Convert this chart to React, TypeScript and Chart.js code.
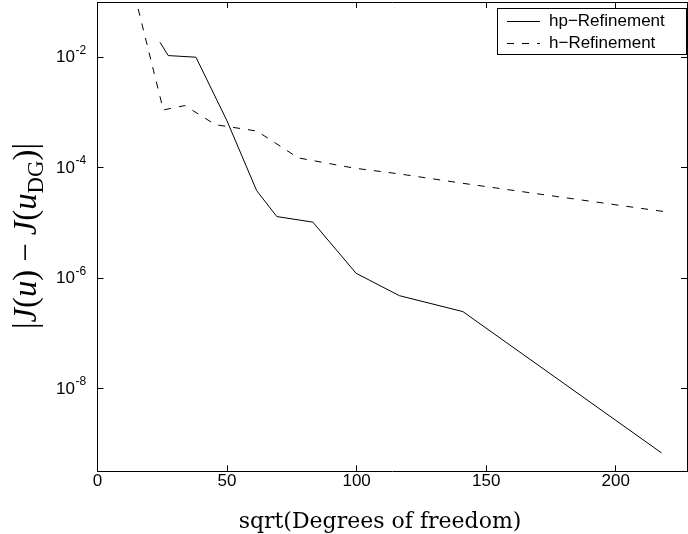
import { useEffect, useRef } from "react";
import { Chart, registerables } from "chart.js";
Chart.register(...registerables);

const hpX = [24.1, 27.3, 38.0, 50.0, 61.4, 69.2, 83.1, 99.8, 116.5, 141.0, 217.7];
const hpY = [1.87e-2, 1.07e-2, 1.0e-2, 7.0e-4, 3.85e-5, 1.3e-5, 1.03e-5, 1.22e-6, 4.8e-7, 2.47e-7, 6.8e-10];
const hX = [15.7, 25.4, 33.7, 45.5, 61.5, 77.5, 99.0, 116.5, 141.0, 218.6];
const hY = [7.5e-2, 1.11e-3, 1.33e-3, 6.0e-4, 4.6e-4, 1.5e-4, 9.8e-5, 7.7e-5, 5.2e-5, 1.6e-5];

const xTickValues = [0, 50, 100, 150, 200];
const yTickValues = [1e-2, 1e-4, 1e-6, 1e-8];
const yTickBase = "10";
const yTickExponents = ["-2", "-4", "-6", "-8"];
const seriesNames = ["hp\u2212Refinement", "h\u2212Refinement"];
const xTitle = "sqrt(Degrees of freedom)";
const yTitleParts = [
  { t: "|", it: false, sub: false },
  { t: "J", it: true, sub: false },
  { t: "(", it: false, sub: false },
  { t: "u", it: true, sub: false },
  { t: ")", it: false, sub: false },
  { t: " \u2212 ", it: false, sub: false },
  { t: "J", it: true, sub: false },
  { t: "(", it: false, sub: false },
  { t: "u", it: true, sub: false },
  { t: "DG", it: false, sub: true },
  { t: ")", it: false, sub: false },
  { t: "|", it: false, sub: false },
];

const SERIF = '"DejaVu Serif", serif';
const SERIF2 = '"Liberation Serif", serif';
const SANS = '"Liberation Sans", Arial, sans-serif';

const decor = {
  id: "decor",
  afterDraw(chart: any) {
    const ctx = chart.ctx as CanvasRenderingContext2D;
    ctx.save();
    ctx.fillStyle = "#000";

    // y tick labels with superscript exponents
    const ys = chart.scales.y;
    yTickValues.forEach((v, i) => {
      const py = ys.getPixelForValue(v);
      ctx.font = `17px ${SANS}`;
      ctx.textAlign = "right";
      ctx.textBaseline = "middle";
      ctx.fillText(yTickBase, 75, py + 0.5);
      ctx.font = `12px ${SANS}`;
      ctx.textAlign = "left";
      ctx.fillText(yTickExponents[i], 75.5, py - 6.5);
    });

    // x title
    ctx.font = `22px ${SERIF}`;
    ctx.textAlign = "center";
    ctx.textBaseline = "alphabetic";
    ctx.fillText(xTitle, 380, 528);

    // y title (mixed fonts)
    const fontFor = (p: any, size: number) =>
      `${p.it ? "italic " : ""}${p.sub ? size * 0.7 : size}px ${SERIF2}`;
    const measure = (size: number) => {
      let w = 0;
      for (const p of yTitleParts) {
        ctx.font = fontFor(p, size);
        w += ctx.measureText(p.t).width;
      }
      return w;
    };
    const target = 186;
    const size = (24 * target) / measure(24);
    const total = measure(size);
    ctx.translate(36, 236);
    ctx.rotate(-Math.PI / 2);
    ctx.textAlign = "left";
    let x = -total / 2;
    for (const p of yTitleParts) {
      ctx.font = fontFor(p, size);
      ctx.fillText(p.t, x, p.sub ? size * 0.2 : 0);
      x += ctx.measureText(p.t).width;
    }
    ctx.setTransform(1, 0, 0, 1, 0, 0);

    // legend
    const lx = 497.5, ly = 8.5, lw = 189, lh = 46;
    ctx.fillStyle = "#fff";
    ctx.fillRect(lx, ly, lw, lh);
    ctx.strokeStyle = "#000";
    ctx.lineWidth = 1;
    ctx.setLineDash([]);
    ctx.strokeRect(lx, ly, lw, lh);
    const rows = [21.5, 43.5];
    chart.data.datasets.forEach((ds: any, i: number) => {
      const y = rows[i];
      ctx.beginPath();
      ctx.setLineDash(ds.borderDash || []);
      ctx.moveTo(507, y);
      ctx.lineTo(540, y);
      ctx.strokeStyle = "#000";
      ctx.lineWidth = 1;
      ctx.stroke();
      ctx.setLineDash([]);
      ctx.fillStyle = "#000";
      ctx.font = `17px ${SANS}`;
      ctx.textAlign = "left";
      ctx.textBaseline = "middle";
      ctx.fillText(ds.label, 549, y);
    });
    ctx.restore();
  },
};

const zeroPad = (s: any) => {
  s.paddingTop = 0;
  s.paddingBottom = 0;
  s.paddingLeft = 0;
  s.paddingRight = 0;
};

export default function App() {
  const ref = useRef<HTMLCanvasElement | null>(null);
  useEffect(() => {
    document.body.style.margin = "0";
    const canvas = ref.current;
    if (!canvas) return;
    const tickFont = { family: SANS, size: 17 };
    const gridOpts = {
      display: true,
      drawOnChartArea: false,
      drawTicks: true,
      tickLength: -6,
      color: "#000",
      lineWidth: 1,
    };
    const borderOpts = { display: true, color: "#000", width: 1 };
    const setX = (s: any) => {
      s.ticks = xTickValues.map((v) => ({ value: v }));
    };
    const setY = (s: any) => {
      s.ticks = yTickValues.map((v) => ({ value: v }));
    };
    const chart = new Chart(canvas, {
      type: "line",
      data: {
        datasets: [
          {
            label: seriesNames[0],
            data: hpX.map((x, i) => ({ x, y: hpY[i] })),
            borderColor: "#000",
            borderWidth: 1,
            pointRadius: 0,
            fill: false,
            tension: 0,
          },
          {
            label: seriesNames[1],
            data: hX.map((x, i) => ({ x, y: hY[i] })),
            borderColor: "#000",
            borderWidth: 1,
            borderDash: [7, 8],
            pointRadius: 0,
            fill: false,
            tension: 0,
          },
        ],
      },
      options: {
        responsive: false,
        animation: false,
        layout: { padding: { top: 2, right: 1, left: 0, bottom: 0 } },
        plugins: { legend: { display: false }, tooltip: { enabled: false } },
        scales: {
          x: {
            type: "linear",
            position: "bottom",
            min: 0,
            max: 227.5,
            afterBuildTicks: setX,
            afterFit: (s: any) => {
              s.height = 62.7;
              zeroPad(s);
            },
            ticks: { font: tickFont, color: "#000", padding: 6, maxRotation: 0, autoSkip: false },
            grid: gridOpts,
            border: borderOpts,
          },
          x2: {
            type: "linear",
            position: "top",
            min: 0,
            max: 227.5,
            afterBuildTicks: setX,
            afterFit: (s: any) => {
              s.height = 0;
              zeroPad(s);
            },
            ticks: { display: false },
            grid: gridOpts,
            border: borderOpts,
          },
          y: {
            type: "logarithmic",
            position: "left",
            min: Math.pow(10, -9.5),
            max: 0.1,
            afterBuildTicks: setY,
            afterFit: (s: any) => {
              s.width = 97.5;
              zeroPad(s);
            },
            ticks: { display: false },
            grid: gridOpts,
            border: borderOpts,
          },
          y2: {
            type: "logarithmic",
            position: "right",
            min: Math.pow(10, -9.5),
            max: 0.1,
            afterBuildTicks: setY,
            afterFit: (s: any) => {
              s.width = 0;
              zeroPad(s);
            },
            ticks: { display: false },
            grid: gridOpts,
            border: borderOpts,
          },
        },
      } as any,
      plugins: [decor],
    });
    return () => chart.destroy();
  }, []);
  return (
    <div style={{ width: 688, height: 534 }}>
      <canvas ref={ref} width={688} height={534} style={{ width: 688, height: 534, display: "block" }} />
    </div>
  );
}
